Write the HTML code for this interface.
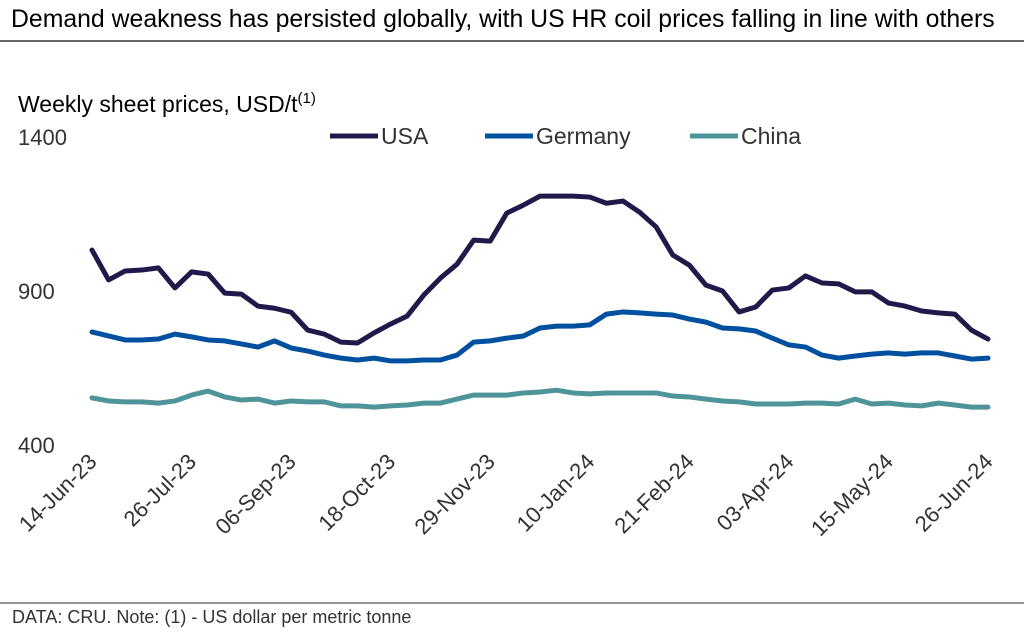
<!DOCTYPE html>
<html><head><meta charset="utf-8"><style>
body{margin:0;background:#fff;width:1024px;height:633px;overflow:hidden;font-family:"Liberation Sans",sans-serif}
</style></head><body>
<svg width="1024" height="633" style="position:absolute;left:0;top:0;font-family:'Liberation Sans',sans-serif">
<text x="11" y="27" font-size="24.8" fill="#000">Demand weakness has persisted globally, with US HR coil prices falling in line with others</text>
<line x1="0" y1="41" x2="1024" y2="41" stroke="#333" stroke-width="1.5"/>
<text x="18" y="112" font-size="23" fill="#000">Weekly sheet prices, USD/t<tspan font-size="15" dy="-9">(1)</tspan></text>
<g id="yt"></g>
<g id="xt"></g>
<g id="lines"></g>
<g id="leg"></g>
<line x1="0" y1="603" x2="1024" y2="603" stroke="#555" stroke-width="1.2"/>
<text x="12" y="623" font-size="18" fill="#333">DATA: CRU. Note: (1) - US dollar per metric tonne</text>
</svg>
<script>
const yTicks=[400,900,1400];
const xLabels=["14-Jun-23","26-Jul-23","06-Sep-23","18-Oct-23","29-Nov-23","10-Jan-24","21-Feb-24","03-Apr-24","15-May-24","26-Jun-24"];
const usa=[1033,936,965,968,975,910,962,955,893,890,851,844,831,773,760,734,731,764,793,819,887,942,987,1065,1062,1153,1179,1208,1208,1208,1205,1185,1192,1156,1108,1017,984,919,900,832,848,903,910,949,926,923,897,897,861,851,835,829,825,773,744];
const germany=[767,754,741,741,744,760,751,741,738,728,718,738,715,705,692,682,676,682,673,673,676,676,692,734,738,747,754,780,786,786,790,825,832,829,825,822,809,799,780,777,770,747,725,718,692,682,689,695,699,695,699,699,689,679,682];
const china=[553,543,540,540,536,543,562,575,556,546,549,536,543,540,540,527,527,523,527,530,536,536,549,562,562,562,569,572,578,569,566,569,569,569,569,559,556,549,543,540,533,533,533,536,536,533,549,533,536,530,527,536,530,523,523];
const NS="http://www.w3.org/2000/svg";
const X=i=>92+i*(988-92)/(usa.length-1);
const Y=v=>445-(v-400)*(445-137)/1000;
function mk(t,a,p){const e=document.createElementNS(NS,t);for(const k in a)e.setAttribute(k,a[k]);p.appendChild(e);return e;}
const yt=document.getElementById('yt');
yTicks.forEach(v=>{const t=mk('text',{x:18,y:Y(v)+8,'font-size':22,fill:'#333'},yt);


t.textContent=v;});
const xt=document.getElementById('xt');
xLabels.forEach((l,k)=>{const x=X(k*6);const t=mk('text',{x:0,y:0,'font-size':22,fill:'#333','text-anchor':'end',transform:`translate(${x+6},${463}) rotate(-45)`},xt);


t.textContent=l;});
const lines=document.getElementById('lines');
[[china,'#4f9499','china-line'],[germany,'#0050a0','germany-line'],[usa,'#201a4a','usa-line']].forEach(([d,c,n])=>{
const p=mk('polyline',{points:d.map((v,i)=>X(i)+','+Y(v)).join(' '),fill:'none',stroke:c,'stroke-width':5,'stroke-linejoin':'round','stroke-linecap':'round'},lines);

});
const leg=document.getElementById('leg');
[['USA','#201a4a',330],['Germany','#0050a0',485],['China','#4f9499',690]].forEach(([n,c,x])=>{
const g=mk('g',{},leg);


mk('line',{x1:x,y1:136,x2:x+48,y2:136,stroke:c,'stroke-width':5},g);
const t=mk('text',{x:x+51,y:144,'font-size':23,fill:'#333'},g);t.textContent=n;});
</script>
</body></html>
